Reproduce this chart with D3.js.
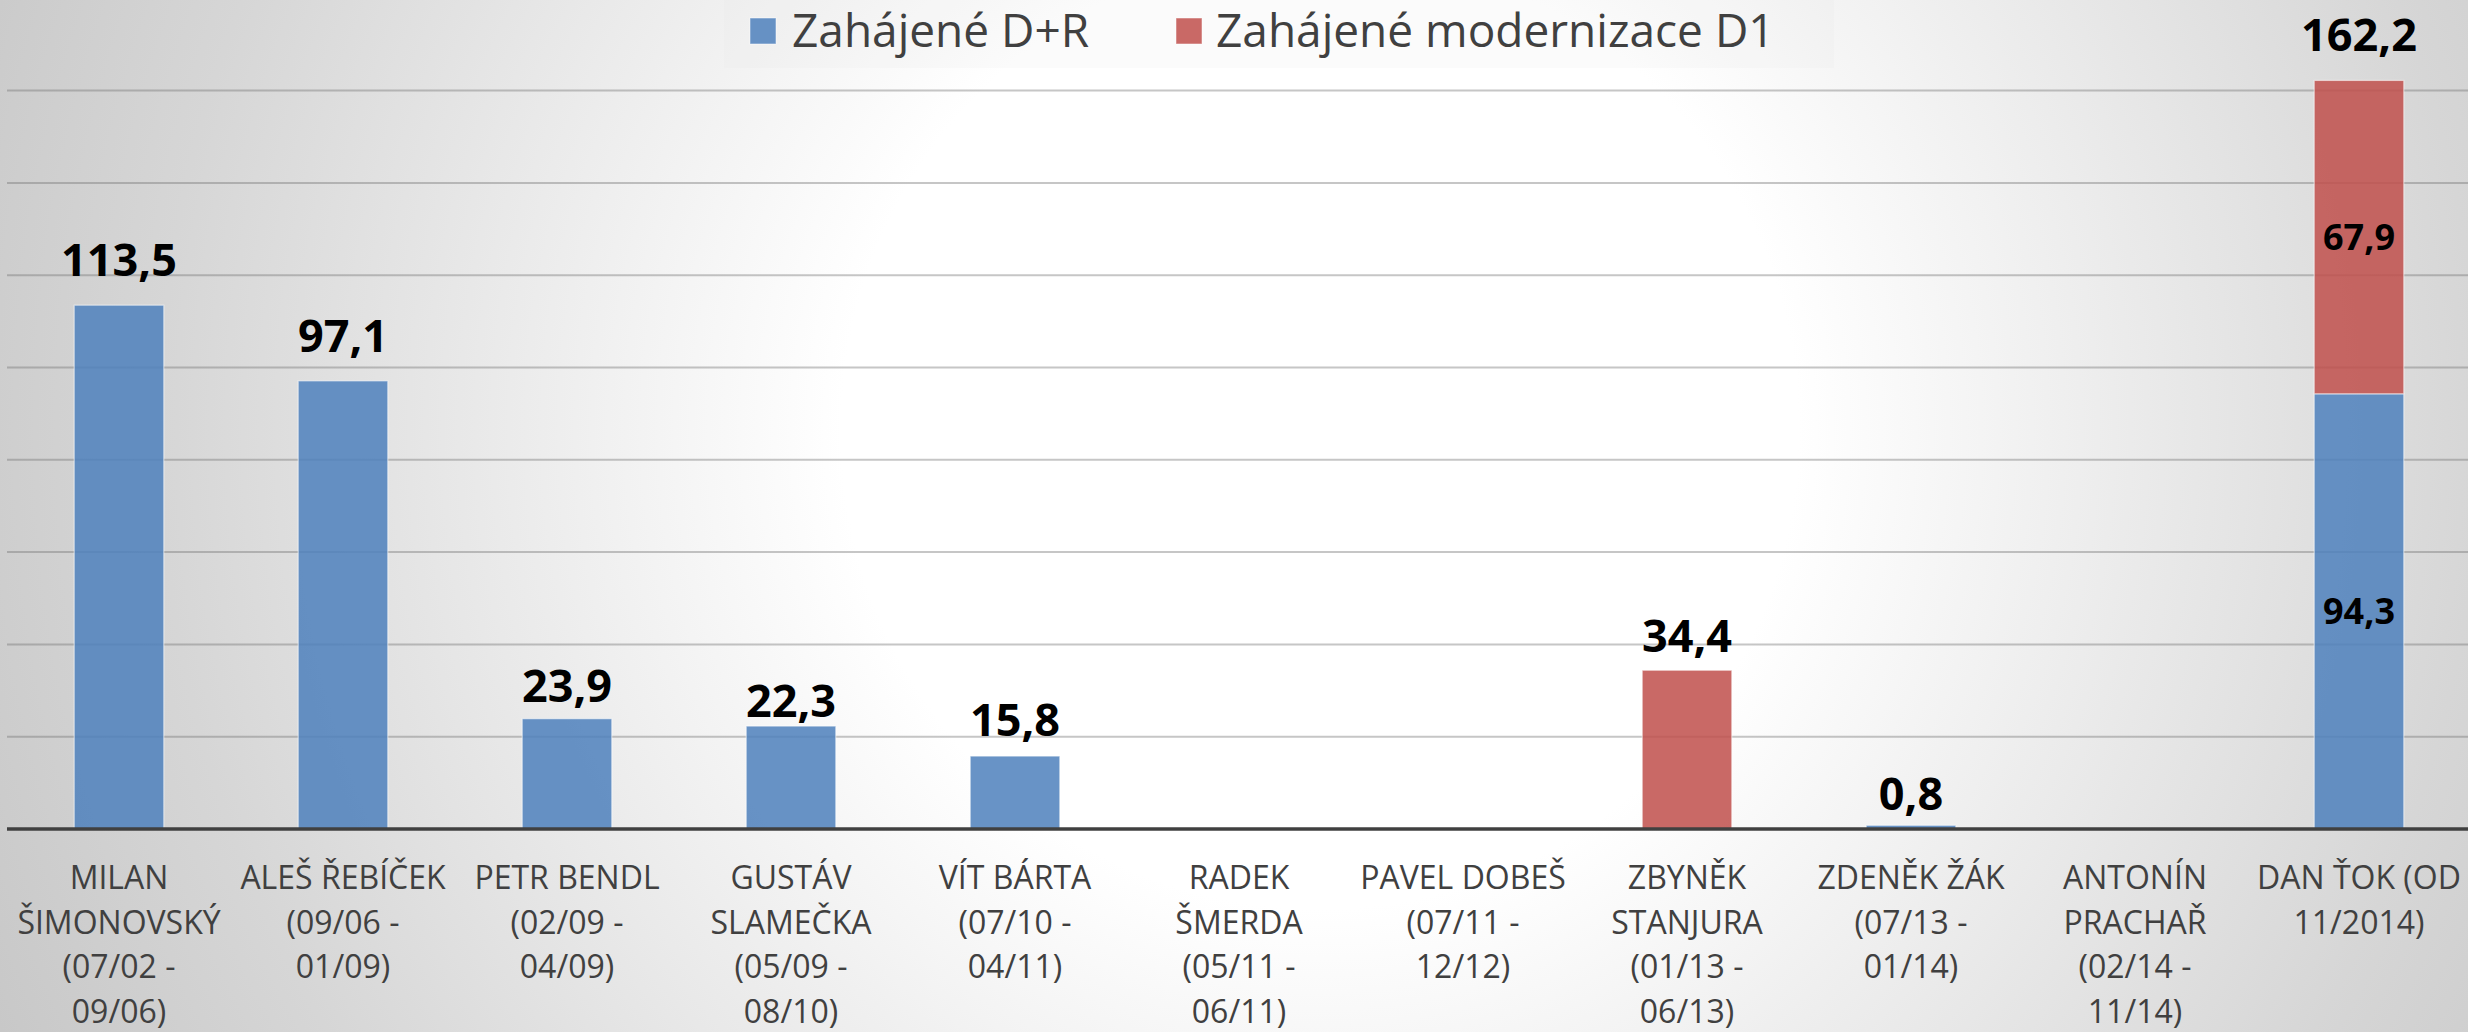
<!DOCTYPE html>
<html>
<head>
<meta charset="utf-8">
<script src="https://cdn.jsdelivr.net/npm/d3@7"></script>
<style>
  html, body { margin: 0; padding: 0; overflow: hidden; background: #fff; }
  svg { display: block; }
</style>
</head>
<body>
<svg id="chart" width="2468" height="1032"></svg>
<script>
// chart data
var categories = [
    ["MILAN", "ŠIMONOVSKÝ", "(07/02 -", "09/06)"],
    ["ALEŠ ŘEBÍČEK", "(09/06 -", "01/09)"],
    ["PETR BENDL", "(02/09 -", "04/09)"],
    ["GUSTÁV", "SLAMEČKA", "(05/09 -", "08/10)"],
    ["VÍT BÁRTA", "(07/10 -", "04/11)"],
    ["RADEK", "ŠMERDA", "(05/11 -", "06/11)"],
    ["PAVEL DOBEŠ", "(07/11 -", "12/12)"],
    ["ZBYNĚK", "STANJURA", "(01/13 -", "06/13)"],
    ["ZDENĚK ŽÁK", "(07/13 -", "01/14)"],
    ["ANTONÍN", "PRACHAŘ", "(02/14 -", "11/14)"],
    ["DAN ŤOK (OD", "11/2014)"]
];
var series_names = ["Zahájené D+R", "Zahájené modernizace D1"];
var values_dr = [113.5, 97.1, 23.9, 22.3, 15.8, 0, 0, 0, 0.8, 0, 94.3];
var values_d1 = [0, 0, 0, 0, 0, 0, 0, 34.4, 0, 0, 67.9];
var y_ticks = [0, 20, 40, 60, 80, 100, 120, 140, 160];

// labels in the original were nudged by hand, px down from the default spot
var label_dy = [0, 0, 12, 20, 9, 0, 0, 11, 14, 0, 0];

var colours = ["#4F81BD", "#C0504D"];
var fmt = function(v) { return d3.format(".1f")(v).replace(".", ","); };

var svg = d3.select("#chart"),
    width = +svg.attr("width"),
    height = +svg.attr("height");

// background radial gradient
var defs = svg.append("defs");
var grad = defs.append("radialGradient")
    .attr("id", "bg")
    .attr("gradientUnits", "userSpaceOnUse")
    .attr("cx", 1320).attr("cy", 430).attr("r", 1450);
grad.append("stop").attr("offset", 0).attr("stop-color", "#ffffff");
grad.append("stop").attr("offset", 0.33).attr("stop-color", "#ffffff");
grad.append("stop").attr("offset", 0.8).attr("stop-color", "#d6d6d6");
grad.append("stop").attr("offset", 1).attr("stop-color", "#c8c8c8");

svg.append("rect")
    .attr("width", width).attr("height", height)
    .attr("fill", "url(#bg)");

var plot = { left: 7, right: 2471, base: 829, top: 90.6 };

var x = d3.scaleBand()
    .domain(d3.range(categories.length))
    .range([plot.left, plot.right])
    .paddingInner(0.6)
    .paddingOuter(0.3);

var y = d3.scaleLinear()
    .domain([0, 160])
    .range([plot.base, plot.top]);

// gridlines
svg.append("g")
    .selectAll("line")
    .data(y_ticks.filter(function(d) { return d > 0; }))
    .enter()
    .append("line")
    .attr("x1", plot.left).attr("x2", width)
    .attr("y1", function(d) { return y(d); })
    .attr("y2", function(d) { return y(d); })
    .attr("stroke", "#707070")
    .attr("stroke-opacity", 0.4)
    .attr("stroke-width", 2);

// stacked bars
var stack_rows = categories.map(function(c, i) {
    return { i: i, dr: values_dr[i], d1: values_d1[i] };
});
var stacked = d3.stack().keys(["dr", "d1"])(stack_rows);

var layers = svg.append("g")
    .selectAll("g")
    .data(stacked)
    .enter()
    .append("g")
    .attr("fill", function(d, k) { return colours[k]; });

layers.selectAll("rect")
    .data(function(d) { return d.filter(function(s) { return s[1] - s[0] > 0; }); })
    .enter()
    .append("rect")
    .attr("x", function(d) { return x(d.data.i); })
    .attr("width", x.bandwidth())
    .attr("y", function(d) { return y(d[1]); })
    .attr("height", function(d) { return y(d[0]) - y(d[1]); })
    .attr("fill-opacity", 0.86)
    .attr("stroke", "#ffffff")
    .attr("stroke-opacity", 0.55)
    .attr("stroke-width", 1.2);

// axis baseline
svg.append("line")
    .attr("x1", plot.left).attr("x2", width)
    .attr("y1", plot.base).attr("y2", plot.base)
    .attr("stroke", "#404040")
    .attr("stroke-width", 3.5);

// labels inside segments when a bar has both parts
var both = stack_rows.filter(function(d) { return d.dr > 0 && d.d1 > 0; });
both.forEach(function(d) {
    [[0, d.dr], [d.dr, d.dr + d.d1]].forEach(function(seg) {
        svg.append("text")
            .attr("x", x(d.i) + x.bandwidth() / 2)
            .attr("y", (y(seg[0]) + y(seg[1])) / 2 + 13)
            .attr("text-anchor", "middle")
            .style("font", "bold 36px 'Open Sans'")
            .attr("fill", "#000")
            .text(fmt(seg[1] - seg[0]));
    });
});

// total labels above bars
svg.append("g")
    .selectAll("text")
    .data(stack_rows.filter(function(d) { return d.dr + d.d1 > 0; }))
    .enter()
    .append("text")
    .attr("x", function(d) { return x(d.i) + x.bandwidth() / 2; })
    .attr("y", function(d) { return y(d.dr + d.d1) - 29 + label_dy[d.i]; })
    .attr("text-anchor", "middle")
    .style("font", "bold 45px 'Open Sans'")
    .attr("fill", "#000")
    .text(function(d) { return fmt(d.dr + d.d1); });

// category labels
var cat = svg.append("g")
    .selectAll("text")
    .data(categories)
    .enter()
    .append("text")
    .attr("text-anchor", "middle")
    .style("font", "32px 'Open Sans'")
    .attr("fill", "#404040");

cat.selectAll("tspan")
    .data(function(d, i) { return d.map(function(t) { return { t: t, i: i }; }); })
    .enter()
    .append("tspan")
    .attr("x", function(d) { return x(d.i) + x.bandwidth() / 2; })
    .attr("y", function(d, j) { return 889 + j * 44.5; })
    .text(function(d) { return d.t; });

// legend
svg.append("rect")
    .attr("x", 724).attr("y", 0)
    .attr("width", 1110).attr("height", 68)
    .attr("fill", "#e4e4e4")
    .attr("fill-opacity", 0.15);

var legend_pos = [{ sx: 750, tx: 792 }, { sx: 1176, tx: 1216 }];
var legend = svg.append("g")
    .selectAll("g")
    .data(series_names)
    .enter()
    .append("g");

legend.append("rect")
    .attr("x", function(d, k) { return legend_pos[k].sx; })
    .attr("y", 18)
    .attr("width", 26).attr("height", 26)
    .attr("fill", function(d, k) { return colours[k]; })
    .attr("fill-opacity", 0.86)
    .attr("stroke", "#ffffff")
    .attr("stroke-opacity", 0.5);

legend.append("text")
    .attr("x", function(d, k) { return legend_pos[k].tx; })
    .attr("y", 47)
    .style("font", "46px 'Open Sans'")
    .attr("fill", "#404040")
    .text(function(d) { return d; });
</script>
</body>
</html>
